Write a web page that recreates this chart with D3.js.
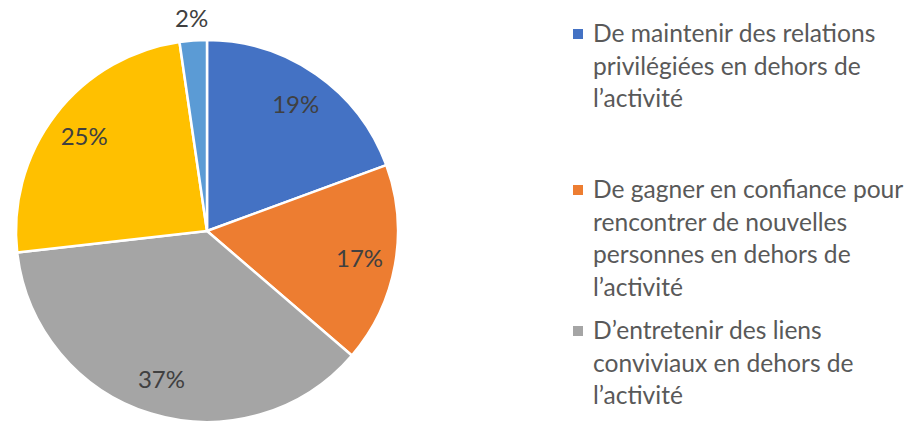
<!DOCTYPE html>
<html><head><meta charset="utf-8">
<script src="https://cdn.jsdelivr.net/npm/d3@7"></script>
<style>body{margin:0;background:#fff;}svg{display:block;}</style>
</head><body>
<svg id="chart" width="914" height="422"></svg>
<script>
// ---- data ----
const categories = [
  "De maintenir des relations privilégiées en dehors de l’activité",
  "De gagner en confiance pour rencontrer de nouvelles personnes en dehors de l’activité",
  "D’entretenir des liens conviviaux en dehors de l’activité",
  null,
  null
];
const values = [19.4, 16.9, 36.9, 24.5, 2.3];
const colors = ["#4472C4", "#ED7D31", "#A5A5A5", "#FFC000", "#5B9BD5"];

// ---- layout ----
const W = 914, H = 422;
const cx = 207, cy = 231, R = 191;
const labelR = 155, outsideLabelR = 213;
const fontFamily = "Lato, 'Open Sans', sans-serif";
const textColor = "#595959";
const legendFont = 24.6;
const legendX = 573, legendTextX = 593, legendLineH = 32.5, legendWrap = 330;
const legendStartY = [42, 198, 339, 470, 560];

const svg = d3.select("#chart");
const g = svg.append("g").attr("transform", `translate(${cx},${cy})`);

const pie = d3.pie().sort(null).value(d => d)(values);
const arc = d3.arc().innerRadius(0).outerRadius(R);

g.selectAll("path.slice").data(pie).enter().append("path")
  .attr("class", "slice")
  .attr("d", arc)
  .attr("fill", (d, i) => colors[i])
  .attr("stroke", "#fff")
  .attr("stroke-width", 2.5)
  .attr("stroke-linejoin", "round");

const total = d3.sum(values);
g.selectAll("text.lbl").data(pie).enter().append("text")
  .attr("class", "lbl")
  .attr("transform", d => {
    const pct = d.data / total;
    const r = pct < 0.05 ? outsideLabelR : labelR;
    const a = (d.startAngle + d.endAngle) / 2;
    return `translate(${Math.sin(a) * r},${-Math.cos(a) * r})`;
  })
  .attr("text-anchor", "middle")
  .attr("dy", "0.36em")
  .attr("font-family", fontFamily)
  .attr("font-size", 24)
  .attr("fill", "#404040")
  .text(d => Math.round(d.data / total * 100) + "%");

// ---- legend ----
const legend = svg.append("g");
const measurer = svg.append("text").attr("font-family", fontFamily).attr("font-size", legendFont).attr("visibility", "hidden");
function wrap(str) {
  const words = str.split(" ");
  const lines = [];
  let cur = "";
  for (const w of words) {
    const test = cur ? cur + " " + w : w;
    measurer.text(test);
    if (cur && measurer.node().getComputedTextLength() > legendWrap) {
      lines.push(cur); cur = w;
    } else cur = test;
  }
  if (cur) lines.push(cur);
  return lines;
}
categories.forEach((c, i) => {
  if (!c) return;
  const y0 = legendStartY[i];
  legend.append("rect")
    .attr("x", legendX).attr("y", y0 - 13)
    .attr("width", 10).attr("height", 10)
    .attr("fill", colors[i]);
  const t = legend.append("text")
    .attr("font-family", fontFamily).attr("font-size", legendFont)
    .attr("fill", textColor);
  wrap(c).forEach((line, k) => {
    t.append("tspan").attr("x", legendTextX).attr("y", y0 + k * legendLineH).text(line);
  });
});
measurer.remove();
</script>
</body></html>
